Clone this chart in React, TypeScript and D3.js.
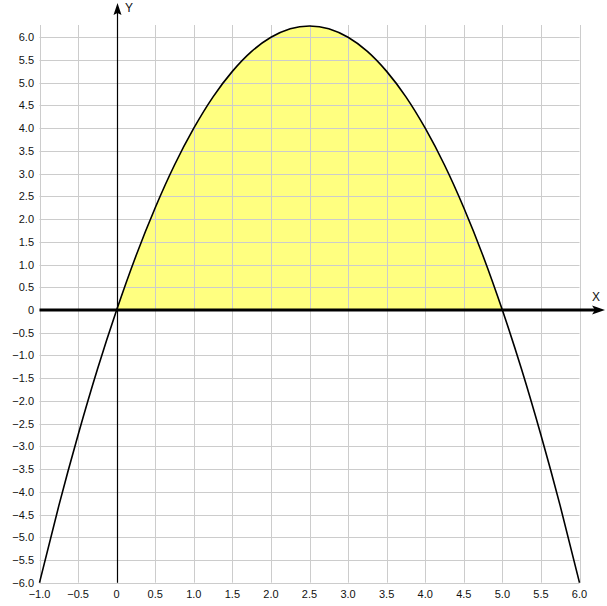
import React, { useEffect, useRef } from 'react';
import * as d3 from 'd3';

// values
const xs = [-1, -0.75, -0.5, -0.25, 0, 0.25, 0.5, 0.75, 1, 1.25, 1.5, 1.75, 2, 2.25, 2.5,
  2.75, 3, 3.25, 3.5, 3.75, 4, 4.25, 4.5, 4.75, 5, 5.25, 5.5, 5.75, 6];
const ys = [-6, -4.31, -2.75, -1.31, 0, 1.19, 2.25, 3.19, 4, 4.69, 5.25, 5.69, 6, 6.19, 6.25,
  6.19, 6, 5.69, 5.25, 4.69, 4, 3.19, 2.25, 1.19, 0, -1.31, -2.75, -4.31, -6];
const fillFrom = 0;
const fillTo = 5;
const xTicks = [-1, -0.5, 0, 0.5, 1, 1.5, 2, 2.5, 3, 3.5, 4, 4.5, 5, 5.5, 6];
const yTicks = [-6, -5.5, -5, -4.5, -4, -3.5, -3, -2.5, -2, -1.5, -1, -0.5, 0,
  0.5, 1, 1.5, 2, 2.5, 3, 3.5, 4, 4.5, 5, 5.5, 6];

export default function App() {
  const svgRef = useRef<SVGSVGElement>(null);

  useEffect(() => {
    if (!svgRef.current) return;
    const svg = d3.select(svgRef.current);
    svg.selectAll('*').remove();

    const x = d3.scaleLinear().domain([-1, 6]).range([39.5, 579.5]);
    const y = d3.scaleLinear().domain([-6, 6]).range([582.7, 37.3]);
    const fmt = (v: number) => (v === 0 ? '0' : d3.format('.1f')(v));
    const font = 'Arial, "Liberation Sans", sans-serif';

    const pts = xs.map((v, i) => ({ x: v, y: ys[i] }));
    const gridTop = y(6.27);

    // fill under the arch
    const area = d3.area<{ x: number; y: number }>()
      .x(d => x(d.x))
      .y0(y(0))
      .y1(d => y(d.y))
      .curve(d3.curveNatural);
    svg.append('path')
      .datum(pts.filter(d => d.x >= fillFrom && d.x <= fillTo))
      .attr('d', area)
      .attr('fill', '#ffff80');

    // grid
    const grid = svg.append('g').attr('stroke', '#cccccc').attr('stroke-width', 1);
    xTicks.forEach(t => {
      grid.append('line')
        .attr('x1', Math.round(x(t)) + 0.5).attr('x2', Math.round(x(t)) + 0.5)
        .attr('y1', gridTop).attr('y2', y(-6));
    });
    yTicks.forEach(t => {
      grid.append('line')
        .attr('x1', x(-1)).attr('x2', x(6))
        .attr('y1', Math.round(y(t)) + 0.5).attr('y2', Math.round(y(t)) + 0.5);
    });

    // curve
    const line = d3.line<{ x: number; y: number }>()
      .x(d => x(d.x))
      .y(d => y(d.y))
      .curve(d3.curveNatural);
    svg.append('path')
      .datum(pts)
      .attr('d', line)
      .attr('fill', 'none')
      .attr('stroke', '#000')
      .attr('stroke-width', 1.6);

    // axes
    const x0 = Math.round(x(0)) + 0.5;
    const y0 = Math.round(y(0));
    svg.append('line')
      .attr('x1', x0).attr('x2', x0)
      .attr('y1', y(-6)).attr('y2', 12)
      .attr('stroke', '#000').attr('stroke-width', 1.2);
    svg.append('path')
      .attr('d', `M${x0},3 L${x0 + 4},15 L${x0},13 L${x0 - 4},15 Z`)
      .attr('fill', '#000');
    svg.append('line')
      .attr('x1', x(-1)).attr('x2', 596)
      .attr('y1', y0).attr('y2', y0)
      .attr('stroke', '#000').attr('stroke-width', 3);
    svg.append('path')
      .attr('d', `M605,${y0} L592,${y0 - 4.5} L595,${y0} L592,${y0 + 4.5} Z`)
      .attr('fill', '#000');

    svg.append('text')
      .attr('x', 125).attr('y', 12)
      .attr('font-family', font).attr('font-size', 12)
      .attr('fill', '#111')
      .text('Y');
    svg.append('text')
      .attr('x', 592).attr('y', 301)
      .attr('font-family', font).attr('font-size', 12)
      .attr('fill', '#111')
      .text('X');

    // tick labels
    svg.append('g')
      .selectAll('text')
      .data(yTicks)
      .join('text')
      .attr('x', 34)
      .attr('y', d => y(d) + 4)
      .attr('text-anchor', 'end')
      .attr('font-family', font)
      .attr('font-size', 11)
      .attr('fill', '#111')
      .text(d => fmt(d));
    svg.append('g')
      .selectAll('text')
      .data(xTicks)
      .join('text')
      .attr('x', d => x(d))
      .attr('y', 598)
      .attr('text-anchor', 'middle')
      .attr('font-family', font)
      .attr('font-size', 11)
      .attr('fill', '#111')
      .text(d => fmt(d));
  }, []);

  return (
    <svg
      ref={svgRef}
      width={607}
      height={606}
      style={{ position: 'absolute', left: 0, top: 0, background: '#fff' }}
    />
  );
}
